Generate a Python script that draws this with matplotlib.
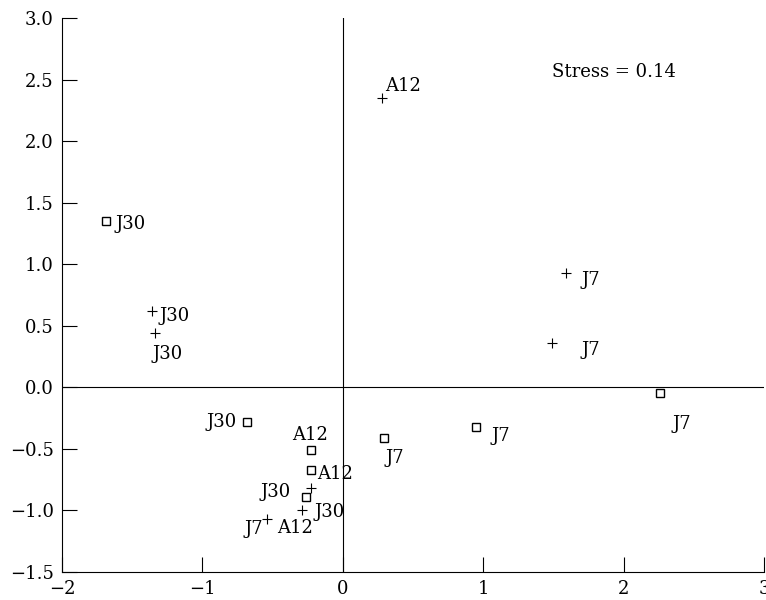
import matplotlib.pyplot as plt

# MDS configuration: squares and pluses
sq_x = [-1.69, -0.68, -0.23, -0.23, -0.26, 0.29, 0.95, 2.26]
sq_y = [1.35, -0.28, -0.51, -0.67, -0.89, -0.41, -0.32, -0.05]
sq_lab = ["J30", "J30", "A12", "A12", "J30", "J7", "J7", "J7"]

pl_x = [0.28, -1.36, -1.34, 1.59, 1.49, -0.23, -0.29, -0.54]
pl_y = [2.35, 0.62, 0.44, 0.93, 0.36, -0.82, -1.00, -1.07]
pl_lab = ["A12", "J30", "J30", "J7", "J7", "A12", "J30", "J7"]

stress = 0.14

# label placement (pixel offsets, alignment)
sq_off = [(10, -3, "left"), (-11, 0, "right"), (0, 15, "center"), (7, -4, "left"),
          (-16, 5, "right"), (2, -20, "left"), (15, -9, "left"), (12, -31, "left")]
pl_off = [(3, 12, "left"), (8, -5, "left"), (-2, -21, "left"), (15, -7, "left"),
          (30, -7, "left"), (-33, -40, "left"), (12, -2, "left"), (-4, -10, "right")]

plt.rcParams['font.family'] = ['DejaVu Serif']
plt.rcParams['font.size'] = 13

fig = plt.figure(figsize=(7.66, 6), dpi=100)
ax = fig.add_axes([62 / 766, 28 / 600, 702 / 766, 554 / 600])

ax.axhline(0, color="black", lw=0.8)
ax.axvline(0, color="black", lw=0.8)

ax.plot(sq_x, sq_y, "s", ls="none", mfc="white", mec="black", ms=5.5, mew=1)
ax.plot(pl_x, pl_y, "+", ls="none", color="black", ms=7, mew=0.8)

for x, y, t, (dx, dy, ha) in zip(sq_x, sq_y, sq_lab, sq_off):
    ax.annotate(t, (x, y), xytext=(dx, dy), textcoords="offset pixels",
                ha=ha, va="center")
for x, y, t, (dx, dy, ha) in zip(pl_x, pl_y, pl_lab, pl_off):
    ax.annotate(t, (x, y), xytext=(dx, dy), textcoords="offset pixels",
                ha=ha, va="center")

ax.text(1.49, 2.56, f"Stress = {stress}", ha="left", va="center")

ax.set_xlim(-2, 3)
ax.set_ylim(-1.5, 3.0)
ax.set_xticks([-2, -1, 0, 1, 2, 3])
ax.set_yticks([-1.5, -1.0, -0.5, 0.0, 0.5, 1.0, 1.5, 2.0, 2.5, 3.0])
ax.set_yticklabels([f"{v:.1f}".replace("-", "\u2212") for v in ax.get_yticks()])
ax.spines["top"].set_visible(False)
ax.spines["right"].set_visible(False)
ax.tick_params(direction="in", length=11, width=0.8, pad=6)

fig.savefig("out.png", dpi=100)
